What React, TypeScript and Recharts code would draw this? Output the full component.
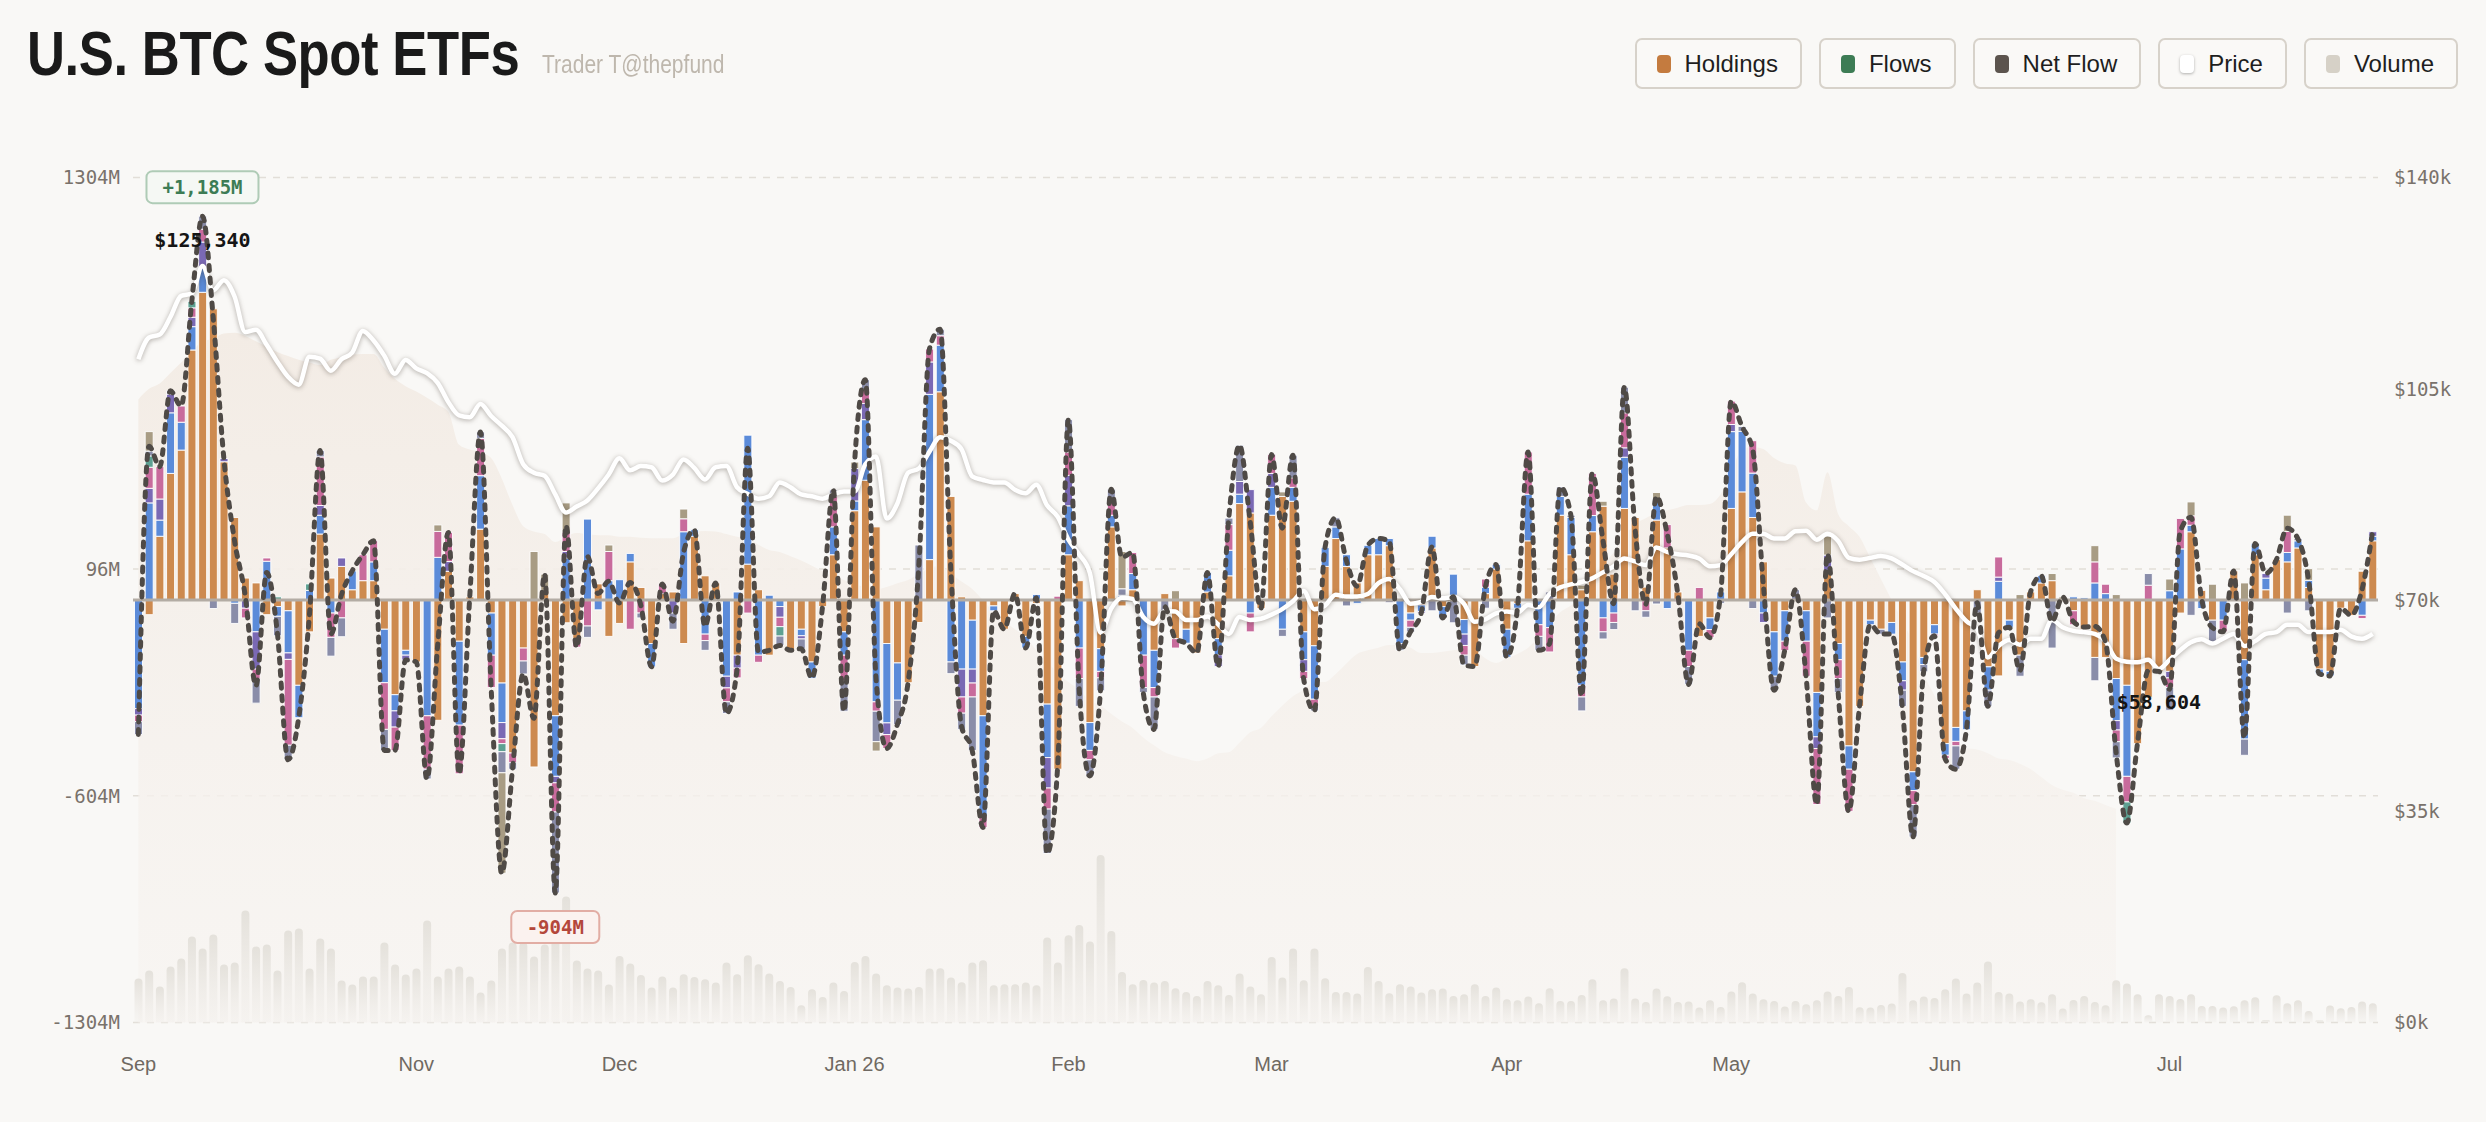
import React from 'react';
import {
  ComposedChart, Bar, Line, Area, XAxis, YAxis, CartesianGrid, ReferenceLine, ReferenceDot,
} from 'recharts';

// ---------- categories (NYSE trading days) ----------
const START_DATE = '2025-09-26';
const DAY_COUNT = 210;
const HOLIDAYS = ['2025-11-27', '2025-12-25', '2026-01-01', '2026-01-19', '2026-02-16', '2026-04-03', '2026-05-25', '2026-06-19', '2026-07-03'];
const TICK_DATES = ['2025-09-26', '2025-11-03', '2025-12-01', '2026-01-02', '2026-02-02', '2026-03-02', '2026-04-01', '2026-05-01', '2026-06-01', '2026-07-01'];
const TICK_LABELS = ['Sep', 'Nov', 'Dec', 'Jan 26', 'Feb', 'Mar', 'Apr', 'May', 'Jun', 'Jul'];

// ---------- daily flows by fund ($M) ----------
const IBIT = [
  0, -45, 197, 391, 463, 772, 950, 899, 427, 255,
  68, 53, -45, -20, -33, -263, -98, 204, 68, 104,
  32, 60, 60, -90, -292, -155, -191, 0, -371, 89,
  -127, 10, 219, -40, -256, -472, -148, -515, 30, -357,
  -70, -120, 0, 50, -112, -72, 118, 39, -134, 20,
  25, -134, 197, 75, 53, 0, -170, 111, 32, -170,
  0, -155, -90, -191, -20, 140, -98, 276, 370, 226,
  -134, -194, -255, -69, 125, 643, 320, 10, -62, -357,
  -18, -90, 20, -112, -10, -321, -522, 140, 60, -378,
  -150, 226, -18, 32, 0, -155, 20, -119, -90, -163,
  25, -119, 75, 298, 269, -26, 262, 320, 305, -98,
  -141, 104, 190, 104, 53, 140, 140, 168, 0, -40,
  -15, 161, -20, 15, -60, -205, 20, 96, -90, -10,
  183, 0, 0, 262, 140, 32, 211, 290, 80, 283,
  255, 40, 247, 161, 25, 0, -112, -55, 0, 283,
  334, 255, 118, -98, -33, 0, -33, -285, 89, -134,
  -450, -328, -62, -90, -69, -191, -530, -177, -76, -443,
  -393, -342, 32, -206, -234, -62, -170, 25, 53, 60,
  0, -33, -90, -177, -177, -242, -263, -443, -300, -220,
  -220, -40, 211, 30, -62, 0, 90, -184, 140, 32,
  125, 118, 161, 39, -213, -220, -25, -47, 89, 183,
];
const FBTC = [
  -335, 300, 50, 187, 86, 72, 75, 0, 0, -10,
  0, -98, 120, -30, -130, -100, 30, 58, -40, 0,
  58, 0, 58, -165, -50, -15, 0, -357, 132, 0,
  -259, 0, 165, -130, -122, 0, 0, 0, 0, -187,
  130, 0, 250, -30, 60, 63, 26, 0, -72, 0,
  0, 211, 20, -105, 0, -235, 25, 398, -170, 15,
  -20, 0, -20, -50, 0, 86, -72, 30, 187, -314,
  -245, -115, 0, 0, 510, 144, -191, -213, -151, -309,
  -15, 0, 0, -36, 17, -165, 0, 151, -148, -86,
  -70, 36, 15, 50, -170, -115, 0, 0, -43, 0,
  60, -50, 79, 29, -40, 0, 86, -90, 43, -86,
  -165, 58, 36, 36, -10, 29, 50, 22, -134, -22,
  -20, 36, -35, 65, -45, 0, 20, 14, -86, -15,
  144, -76, -85, 58, 115, -263, 50, -55, -40, 158,
  0, 0, 65, -26, 0, -155, 0, -36, 25, 237,
  187, 137, -40, -137, -94, 0, -94, -137, 0, -50,
  -72, 0, -14, 0, -36, -58, -58, -22, -29, -36,
  -43, -58, 0, -72, 58, -22, 0, 0, 22, 0,
  0, 10, 7, 53, 20, -130, -281, 0, 0, 0,
  29, 158, 20, -26, 0, -62, 0, -245, 35, 36,
  0, 29, 22, 22, -14, -14, 0, 0, -47, 14,
];
const BITB = [
  -20, 45, 65, 58, 0, 29, 80, 0, 10, 0,
  -25, -115, 0, 0, -20, 0, 0, 30, 0, 26,
  0, 0, 0, 0, -50, -15, 0, 0, 0, 30,
  0, 0, 0, 0, -50, 0, 0, 0, 0, -20,
  20, 0, 0, 0, 0, 0, 0, 0, 0, 0,
  -40, 0, 0, 0, 0, -36, -40, 0, 0, 0,
  -33, 0, -10, 0, 0, 0, 0, 100, 50, 0,
  -36, 0, 0, 0, 100, 0, 0, -86, -43, 0,
  0, 0, 0, 0, 0, -94, 0, 94, 0, 0,
  0, 0, 0, 0, 0, 0, 0, 0, 0, 0,
  0, -36, 0, 39, 72, 0, 43, 0, 0, -36,
  0, 0, 0, 0, 0, 0, 0, 0, 0, 0,
  -5, 0, 0, 0, -35, 0, 0, 0, 0, 0,
  0, 0, 0, 0, 0, 0, 0, 0, 0, 29,
  0, 0, 0, 0, 0, 0, 0, 0, 0, 22,
  0, 0, -29, 0, 0, 0, 0, -36, 50, 0,
  0, 0, 0, 0, 0, -29, 0, 0, 0, 0,
  0, 0, 0, 0, 13, 0, 0, 0, 0, 0,
  0, 0, 0, 0, 0, -29, 0, 0, 0, 0,
  -20, 0, 0, 0, 0, 0, 0, 0, 0, 14,
  0, 0, 0, 0, 0, 0, 0, 0, 0, 14,
];
const ARKB = [
  -20, 65, 100, 0, 50, 29, 40, 0, 0, 0,
  -30, -30, 10, 0, -265, 0, 0, 150, -75, -55,
  0, 80, 65, -144, -72, 0, 0, -165, 80, 90,
  -150, 0, 115, -100, -15, -30, -40, 0, 0, -90,
  60, -25, -80, 0, 90, 0, -90, -40, 0, 30,
  0, 40, 0, -20, 0, -43, -30, -40, -22, 0,
  -29, 0, 0, 0, 0, 94, -80, 0, 43, -29,
  -43, 0, 0, 0, 40, 29, 0, -50, -43, -36,
  0, 0, 0, 0, 0, -65, 12, 72, -94, -29,
  -20, 50, 0, 65, -100, -29, 0, -29, 0, 0,
  0, 0, 79, 0, -58, 0, 58, 0, 29, -22,
  -22, 0, 0, 0, 0, 0, 0, 0, 0, -22,
  0, 0, 0, 0, -30, 0, 25, 0, 0, 0,
  130, -36, -75, 0, 0, -36, 130, -43, -29, 108,
  0, -33, 0, 72, -5, -50, 39, -25, 0, 72,
  0, 100, 0, 0, -29, 0, -108, -173, 0, -58,
  -130, 0, 0, 0, 0, 0, -43, 0, -5, -10,
  -14, 0, 0, 0, 62, 0, 0, 0, 0, 0,
  0, -43, 0, 65, 29, -36, -79, 0, 46, 0,
  -30, 94, 29, 0, 0, -36, 0, 0, 0, 0,
  0, 65, 0, 0, 0, 0, 0, 0, -10, 0,
];
const HODL = [
  0, 35, 0, 0, 0, 20, 0, 0, 0, 0,
  0, 0, 0, 10, 0, 0, 20, 0, 0, 0,
  0, 0, 0, 0, 0, 0, 0, 0, 0, 0,
  0, 0, 0, 0, -25, 0, 0, 0, 0, 0,
  0, 0, 0, 0, 0, 0, 0, 0, 0, 0,
  0, 0, 0, 0, 0, 0, 0, 0, 0, 0,
  -29, 0, 0, 0, 0, 0, 0, 0, 0, 0,
  0, 0, 0, 0, 0, 0, 0, 0, 0, 0,
  0, 0, 0, 0, 0, 0, 0, 0, 0, 0,
  0, 0, 0, 0, 0, 0, 0, 0, 0, 0,
  0, 0, 0, 0, 0, 0, 0, 0, 0, 0,
  0, 0, 0, 0, 0, 0, 0, 0, 0, 0,
  0, 0, 0, 0, 0, 0, 0, 0, 0, 0,
  0, 0, 0, 0, 0, 0, 0, 0, 0, 0,
  0, 0, 0, 0, 0, 0, 0, 0, 0, 0,
  0, 0, 0, 0, 0, 0, 0, 0, 0, 0,
  0, 0, 0, 0, 0, 0, 0, 0, 0, 0,
  0, 0, 0, 0, 0, 0, 0, 0, 0, 0,
  0, 0, 0, 0, 0, 0, -65, 0, 0, 0,
  0, 0, 0, 0, 0, 0, 0, 0, 0, 0,
  0, 0, 0, 0, 0, 0, 0, 0, 0, 0,
];
const GBTC = [
  -40, 15, 0, 10, 0, 0, 40, -26, 0, -62,
  0, -75, 0, -60, -45, 0, 0, 20, -58, -58,
  0, 0, 0, -65, 0, 0, 0, -30, 0, 0,
  0, 0, 20, 0, -65, -20, -40, 0, 0, -250,
  0, 0, -35, 0, 0, 0, 0, -15, 0, 0,
  -50, 0, 0, -30, 0, -36, 0, 0, 0, 0,
  -29, 0, -30, 0, 0, 20, -93, 0, 30, -94,
  0, -75, 0, 170, 0, 20, -36, -50, -165, 0,
  0, 0, 0, 0, 0, -137, 0, 100, -86, -50,
  -40, 30, 20, 0, -15, -100, -40, 0, 0, 0,
  0, 0, 20, 112, 0, 0, 0, -22, 70, 0,
  -14, 0, 28, -18, 0, 0, 0, -8, -21, -14,
  0, -33, 0, -70, -30, 0, -25, 0, 0, 0,
  0, -43, 25, 29, 7, -43, 0, -22, -22, 79,
  -33, -20, -12, 0, 0, -55, 0, 0, -10, 0,
  15, -26, 0, -43, 0, 32, 0, 0, -55, -43,
  0, 0, 0, -15, 0, -50, -100, -22, 0, 0,
  -72, 0, -40, -50, 0, 0, -65, 0, 0, -148,
  0, 0, 0, -72, 0, -50, 0, 0, 36, 0,
  -70, 0, -47, 0, -72, 0, 0, -50, 0, 0,
  0, -40, 7, -33, 0, 0, 0, 0, 0, 0,
];
const MINI = [
  0, 60, 0, 0, 0, 0, 0, 0, 0, 0,
  0, 0, 0, 0, 0, 0, 0, 0, 0, 0,
  0, 0, 0, 0, 0, 0, 0, 0, 20, 0,
  0, 0, 0, 0, -310, 0, 0, 150, 50, 0,
  90, 0, 0, 0, 20, 0, 0, 0, 0, 0,
  0, 30, 0, 0, 0, 0, 0, 0, 0, 0,
  0, 0, 0, 0, 0, 0, 0, 20, 0, -29,
  0, 0, 0, 0, 0, 0, 0, 0, 0, 0,
  0, 0, 0, 0, 0, 0, 0, 0, 0, 0,
  0, 0, 115, 0, 0, 0, 0, 29, 0, 0,
  0, 0, 0, 0, 0, 0, 0, 14, 0, 0,
  0, 0, 0, 0, 0, 0, 0, 0, 0, 0,
  0, 0, 0, 0, 0, 0, 0, 0, 0, 0,
  0, 0, 0, 0, 0, 14, 0, 15, 0, 0,
  0, 0, 20, 0, 0, 0, 0, 0, 0, 0,
  0, 0, 0, 0, 0, 0, 0, 0, 58, 0,
  0, 0, 0, 0, 0, 0, 0, 0, 0, 0,
  0, 0, 0, 0, 0, 0, 17, 0, 0, 22,
  10, 0, 0, 50, 0, 17, 0, 0, 0, 0,
  36, 0, 43, 0, 49, 0, 0, 53, 0, 0,
  0, 50, 0, 36, 0, 0, 0, 0, 0, 0,
];

// ---------- BTC price ($k) ----------
const PRICE_K = [
  109.9, 113.5, 114.0, 116.9, 120.4, 120.8, 125.34, 121.3, 123.0, 120.3,
  114.4, 114.8, 112.3, 109.5, 107.0, 105.7, 110.3, 110.0, 108.0, 109.9,
  111.0, 114.6, 113.0, 110.5, 107.5, 109.8, 108.4, 107.6, 106.0, 102.8,
  100.6, 100.3, 102.5, 100.5, 98.9, 97.0, 92.5, 91.1, 90.6, 87.5,
  84.5, 85.5, 86.5, 88.5, 90.8, 93.5, 91.5, 92.2, 92.0, 89.8,
  90.8, 93.3, 91.9, 90.0, 92.0, 92.2, 88.7, 87.6, 86.8, 87.2,
  89.5, 88.7, 87.5, 87.2, 86.8, 87.5, 88.0, 88.0, 92.5, 93.8,
  83.5, 86.0, 91.1, 91.8, 94.6, 97.0, 96.4, 95.0, 90.5, 89.9,
  89.5, 89.5, 88.3, 87.7, 89.1, 85.7, 83.8, 80.0, 77.6, 74.5,
  64.6, 68.6, 70.4, 70.2, 67.2, 66.1, 68.2, 68.1, 66.7, 66.7,
  67.3, 66.0, 64.4, 67.2, 66.7, 66.9, 67.6, 68.5, 69.8, 71.5,
  68.5, 69.1, 70.9, 70.6, 70.6, 71.0, 72.8, 73.5, 71.8, 69.4,
  69.7, 70.5, 70.3, 70.5, 69.4, 66.4, 66.8, 67.8, 68.1, 67.9,
  69.2, 68.8, 71.0, 72.1, 72.6, 73.0, 73.6, 74.6, 75.6, 76.9,
  76.4, 75.8, 78.7, 78.0, 77.6, 77.4, 76.9, 75.6, 75.8, 77.6,
  79.6, 81.0, 81.0, 80.2, 80.2, 81.4, 81.5, 80.0, 81.0, 79.8,
  77.0, 76.7, 77.0, 77.3, 76.9, 75.9, 74.8, 74.0, 73.0, 71.0,
  68.6, 66.5, 65.2, 60.5, 62.4, 63.4, 62.6, 63.6, 63.6, 66.7,
  65.5, 64.9, 64.7, 64.4, 63.2, 60.3, 59.8, 59.7, 60.1, 58.604,
  60.1, 61.7, 63.0, 63.5, 62.8, 63.6, 64.4, 62.4, 63.2, 64.4,
  64.7, 65.9, 65.9, 64.7, 64.7, 64.7, 65.1, 64.0, 63.6, 64.4,
];

// ---------- traded volume ($B) ----------
const VOLUME = [
  2.2, 2.6, 1.8, 2.8, 3.2, 4.3, 3.7, 4.4, 2.9, 3.0,
  5.6, 3.8, 3.9, 2.6, 4.6, 4.7, 2.7, 4.2, 3.7, 2.1,
  1.9, 2.3, 2.3, 4.0, 2.9, 2.4, 2.7, 5.1, 2.3, 2.7,
  2.8, 2.3, 1.5, 2.1, 3.7, 4.0, 4.0, 3.3, 3.9, 4.2,
  6.3, 3.1, 2.7, 2.6, 1.9, 3.33, 2.95, 2.38, 1.75, 2.3,
  1.75, 2.42, 2.28, 2.17, 2.0, 3.0, 2.42, 3.37, 2.92, 2.45,
  2.08, 1.78, 0.87, 1.67, 1.28, 2.0, 1.58, 3.03, 3.33, 2.45,
  1.87, 1.75, 1.7, 1.78, 2.7, 2.72, 2.25, 2.02, 3.0, 3.12,
  1.87, 1.92, 1.92, 2.0, 1.87, 4.25, 3.0, 4.37, 4.88, 4.05,
  8.38, 4.58, 2.53, 1.92, 2.13, 2.0, 2.08, 1.72, 1.53, 1.33,
  2.08, 1.87, 1.38, 2.45, 1.8, 1.42, 3.28, 2.25, 3.7, 2.12,
  3.7, 2.22, 1.53, 1.53, 1.45, 2.78, 2.08, 1.47, 1.92, 1.8,
  1.5, 1.67, 1.7, 1.33, 1.42, 1.92, 1.33, 1.75, 1.17, 1.12,
  1.3, 0.97, 1.72, 1.08, 1.08, 1.38, 2.17, 1.12, 1.2, 2.72,
  1.2, 1.03, 1.7, 1.32, 1.03, 1.05, 0.75, 1.12, 0.78, 1.55,
  2.02, 1.45, 1.17, 1.08, 0.8, 1.08, 0.92, 1.12, 1.55, 1.33,
  1.78, 0.77, 0.75, 0.88, 0.95, 2.48, 1.12, 1.3, 1.23, 1.67,
  2.2, 1.45, 2.0, 3.05, 1.53, 1.45, 1.05, 1.17, 1.02, 1.42,
  0.7, 1.13, 1.33, 1.03, 0.87, 2.12, 1.95, 1.42, 0.37, 1.42,
  1.33, 1.18, 1.42, 0.83, 0.83, 0.75, 0.82, 1.12, 1.27, 0.12,
  1.37, 0.97, 1.12, 0.58, 0.1, 0.85, 0.72, 0.78, 1.05, 0.97,
];

// ---------- total holdings value ($B) ----------
const HOLDINGS: (number | null)[] = [
  118, 120, 121, 123, 125, 127, 129, 129.5, 130.5, 130.6,
  130, 129, 128, 127, 126.2, 125.5, 125, 124.5, 125.5, 126,
  126.5, 126.6, 126.6, 124, 121.9, 120.5, 119.5, 118.3, 117, 115.6,
  109.4, 108.5, 108, 106.9, 103, 98, 94, 93, 92.5, 91,
  92, 92.7, 92.5, 92.3, 92.3, 92, 92, 91.8, 91.7, 91.7,
  91.7, 92.5, 93, 93.1, 93, 92.5, 92, 91.7, 90.5, 89.5,
  89.1, 88.3, 87.5, 86.5, 85.5, 84.5, 83.8, 83, 82.5, 82.1,
  82.5, 83.2, 83.8, 85, 86, 86.5, 85, 83.5, 82.1, 80,
  77.7, 76, 74.5, 73, 70.5, 68.5, 66, 64.5, 63, 61,
  60, 58.5, 57, 55.8, 54, 52.5, 51.2, 50.5, 50, 49.5,
  50, 51, 51.2, 53, 55, 55.8, 58, 60, 61.8, 63,
  64.5, 64.5, 66, 68, 69.8, 70.5, 71, 71.5, 71.5, 71,
  70, 70, 70.2, 70.5, 70.7, 70.5, 69, 68.1, 69, 69.8,
  71, 73, 75.5, 77.7, 79, 80.5, 83, 86.5, 89, 92,
  94.4, 95.5, 96.5, 97, 97.5, 98, 98, 98.2, 100, 104,
  108.6, 109, 108.6, 106.9, 105.9, 105.5, 98.5, 97, 104.2, 96.3,
  94, 92, 88, 84, 80, 76, 72, 66, 62, 58,
  54, 52, 51.7, 51, 50, 49.7, 49, 48, 46.5, 45,
  44.1, 43.5, 42.5, 42, 41.2, 40.5, null, null, null, null,
  null, null, null, null, null, null, null, null, null, null,
  null, null, null, null, null, null, null, null, null, null,
];

const FUNDS = [
  { key: 'ibit', values: IBIT, color: '#CD8A4F' },
  { key: 'fbtc', values: FBTC, color: '#5B8BD9' },
  { key: 'bitb', values: BITB, color: '#7A69B4' },
  { key: 'arkb', values: ARKB, color: '#C86B9C' },
  { key: 'hodl', values: HODL, color: '#5EA192' },
  { key: 'gbtc', values: GBTC, color: '#8A8DA9' },
  { key: 'mini', values: MINI, color: '#A89C84' },
];

const LEGEND = [
  { label: 'Holdings', color: '#C47B3F' },
  { label: 'Flows', color: '#3D7C55' },
  { label: 'Net Flow', color: '#5C544E' },
  { label: 'Price', color: '#FFFFFF' },
  { label: 'Volume', color: '#D6D1C7' },
];

function tradingDays(start: string, n: number): string[] {
  const out: string[] = [];
  const d = new Date(start + 'T12:00:00Z');
  while (out.length < n) {
    const dow = d.getUTCDay();
    const iso = d.toISOString().slice(0, 10);
    if (dow !== 0 && dow !== 6 && !HOLIDAYS.includes(iso)) out.push(iso);
    d.setUTCDate(d.getUTCDate() + 1);
  }
  return out;
}

const DATES = tradingDays(START_DATE, DAY_COUNT);
const ROWS = DATES.map((date, i) => {
  const row: any = { date };
  let net = 0;
  FUNDS.forEach((f) => {
    row[f.key] = f.values[i];
    net += f.values[i];
  });
  row.net = net;
  row.price = PRICE_K[i] * 1000;
  row.volume = VOLUME[i];
  row.holdings = HOLDINGS[i];
  return row;
});

const argBy = (cmp: (a: number, b: number) => boolean, key: string) =>
  ROWS.reduce((best, r, i) => (cmp(r[key], ROWS[best][key]) ? i : best), 0);
const MAX_FLOW_I = argBy((a, b) => a > b, 'net');
const MIN_FLOW_I = argBy((a, b) => a < b, 'net');
const MAX_PRICE_I = argBy((a, b) => a > b, 'price');
const MIN_PRICE_I = argBy((a, b) => a < b, 'price');

const MONO = '"DejaVu Sans Mono", "Liberation Mono", monospace';
const SANS = '"Liberation Sans", Arial, sans-serif';
const BG = '#F9F8F6';

const fmtInt = (v: number) => Math.round(v).toLocaleString('en-US');

const Badge = (props: any) => {
  const { cx, cy, text, dy, color, border, fill } = props;
  const w = text.length * 12 + 28;
  return (
    <g>
      <rect x={cx - w / 2} y={cy + dy - 16} width={w} height={32} rx={6} fill={fill} stroke={border} strokeWidth={2} />
      <text x={cx} y={cy + dy} textAnchor="middle" dominantBaseline="central" fontFamily={MONO} fontSize={19} fontWeight={600} fill={color}>
        {text}
      </text>
    </g>
  );
};

const PriceTag = (props: any) => {
  const { cx, cy, text, dy } = props;
  return (
    <text x={cx} y={cy + dy} textAnchor="middle" dominantBaseline="central" fontFamily={MONO} fontSize={20} fontWeight={700} fill="#151515">
      {text}
    </text>
  );
};

export default function App() {
  const maxRow = ROWS[MAX_FLOW_I];
  const minRow = ROWS[MIN_FLOW_I];
  const hiRow = ROWS[MAX_PRICE_I];
  const loRow = ROWS[MIN_PRICE_I];
  return (
    <div style={{ position: 'absolute', left: 0, top: 0, width: 2486, height: 1122, background: BG, overflow: 'hidden' }}>
      <style>{`.price-line .recharts-line-curve{filter:drop-shadow(0px 1.5px 2.5px rgba(50,40,30,0.38));}`}</style>
      <div style={{ position: 'absolute', left: 27, top: 22, fontFamily: SANS, fontWeight: 700, fontSize: 63, lineHeight: '63px', color: '#1A1A1A', whiteSpace: 'nowrap', transform: 'scaleX(0.835)', transformOrigin: 'left top', letterSpacing: -0.5 }}>
        U.S. BTC Spot ETFs
      </div>
      <div style={{ position: 'absolute', left: 542, top: 52, fontFamily: SANS, fontSize: 25, lineHeight: '25px', color: '#BEB7AD', whiteSpace: 'nowrap', transform: 'scaleX(0.84)', transformOrigin: 'left top' }}>
        Trader T@thepfund
      </div>
      <div style={{ position: 'absolute', right: 28, top: 38, display: 'flex', gap: 17 }}>
        {LEGEND.map((l) => (
          <div key={l.label} style={{ height: 47, border: '2px solid #D7D2CA', borderRadius: 7, background: '#FAF9F7', display: 'flex', alignItems: 'center', padding: '0 22px 0 20px', fontFamily: SANS, fontSize: 24, color: '#1E1E1E' }}>
            <span style={{ width: 14, height: 18, borderRadius: 4, background: l.color, marginRight: 14, boxShadow: l.label === 'Price' ? '0 1px 3px rgba(0,0,0,0.3)' : 'none', display: 'inline-block' }} />
            {l.label}
          </div>
        ))}
      </div>
      <div style={{ position: 'absolute', left: 0, top: 0 }}>
        <ComposedChart
          width={2486}
          height={1122}
          data={ROWS}
          stackOffset="sign"
          barCategoryGap={1.5}
          margin={{ top: 177.6, right: 8, bottom: 39.4, left: 13 }}
        >
          <defs>
            <linearGradient id="holdGrad" x1="0" y1="0" x2="0" y2="1">
              <stop offset="0%" stopColor="#F3ECE5" stopOpacity={1} />
              <stop offset="100%" stopColor="#F7F4F1" stopOpacity={0.7} />
            </linearGradient>
            <linearGradient id="volGrad" x1="0" y1="0" x2="0" y2="1">
              <stop offset="0%" stopColor="#E4E1DB" stopOpacity={1} />
              <stop offset="100%" stopColor="#EEEBE7" stopOpacity={0.25} />
            </linearGradient>
          </defs>
          <CartesianGrid xAxisId="main" yAxisId="flow" vertical={false} stroke="#E2DED8" strokeDasharray="7 7" strokeWidth={1.5} />
          <XAxis
            xAxisId="main"
            dataKey="date"
            ticks={TICK_DATES}
            interval={0}
            tickFormatter={(d: string) => TICK_LABELS[TICK_DATES.indexOf(d)]}
            axisLine={false}
            tickLine={false}
            tickSize={0}
            tickMargin={34}
            height={60}
            tick={{ fontFamily: SANS, fontSize: 20, fill: '#6F6962' }}
          />
          <XAxis xAxisId="vol" dataKey="date" hide />
          <YAxis
            yAxisId="flow"
            orientation="left"
            width={120}
            domain={[-1304, 1304]}
            ticks={[1304, 96, -604, -1304]}
            tickFormatter={(v: number) => `${v}M`}
            axisLine={false}
            tickLine={false}
            tickSize={0}
            tickMargin={13}
            tick={{ fontFamily: MONO, fontSize: 19, fill: '#79726B' }}
          />
          <YAxis
            yAxisId="price"
            orientation="right"
            width={100}
            domain={[0, 140000]}
            ticks={[0, 35000, 70000, 105000, 140000]}
            tickFormatter={(v: number) => `$${v / 1000}k`}
            axisLine={false}
            tickLine={false}
            tickSize={0}
            tickMargin={16}
            tick={{ fontFamily: MONO, fontSize: 19, fill: '#79726B', textAnchor: 'start' }}
          />
          <YAxis yAxisId="hold" hide domain={[0, 160]} />
          <YAxis yAxisId="vol" hide domain={[0, 42.25]} />

          <Area
            xAxisId="main"
            yAxisId="hold"
            dataKey="holdings"
            type="monotone"
            stroke="none"
            fill="url(#holdGrad)"
            fillOpacity={1}
            isAnimationActive={false}
            connectNulls={false}
          />
          <Bar xAxisId="vol" yAxisId="vol" dataKey="volume" fill="url(#volGrad)" radius={[4, 4, 0, 0]} isAnimationActive={false} />
          {FUNDS.map((f) => (
            <Bar
              key={f.key}
              xAxisId="main"
              yAxisId="flow"
              dataKey={f.key}
              stackId="flows"
              fill={f.color}
              stroke="#FFFFFF"
              strokeWidth={0.9}
              isAnimationActive={false}
            />
          ))}
          <ReferenceLine xAxisId="main" yAxisId="flow" y={0} stroke="#B3ACA4" strokeWidth={3} />
          <Line
            xAxisId="main"
            yAxisId="price"
            dataKey="price"
            type="monotone"
            className="price-line"
            stroke="#FFFFFF"
            strokeWidth={4.5}
            dot={false}
            activeDot={false}
            isAnimationActive={false}
          />
          <Line
            xAxisId="main"
            yAxisId="flow"
            dataKey="net"
            type="monotone"
            stroke="#4F4A46"
            strokeWidth={5}
            strokeDasharray="5 7.5"
            strokeLinecap="round"
            dot={false}
            activeDot={false}
            isAnimationActive={false}
          />
          <ReferenceDot
            xAxisId="main"
            yAxisId="flow"
            x={maxRow.date}
            y={maxRow.net}
            r={0}
            shape={(p: any) => (
              <Badge cx={p.cx} cy={p.cy} dy={-29} text={`+${fmtInt(maxRow.net)}M`} color="#3D7C55" border="#AFCBB6" fill="#F5F8F4" />
            )}
          />
          <ReferenceDot
            xAxisId="main"
            yAxisId="flow"
            x={minRow.date}
            y={minRow.net}
            r={0}
            shape={(p: any) => (
              <Badge cx={p.cx} cy={p.cy} dy={34} text={`-${fmtInt(-minRow.net)}M`} color="#B4473B" border="#E2ADA4" fill="#FBF2EF" />
            )}
          />
          <ReferenceDot
            xAxisId="main"
            yAxisId="price"
            x={hiRow.date}
            y={hiRow.price}
            r={0}
            shape={(p: any) => <PriceTag cx={p.cx} cy={p.cy} dy={-26} text={`$${fmtInt(hiRow.price)}`} />}
          />
          <ReferenceDot
            xAxisId="main"
            yAxisId="price"
            x={loRow.date}
            y={loRow.price}
            r={0}
            shape={(p: any) => <PriceTag cx={p.cx} cy={p.cy} dy={33} text={`$${fmtInt(loRow.price)}`} />}
          />
        </ComposedChart>
      </div>
    </div>
  );
}
